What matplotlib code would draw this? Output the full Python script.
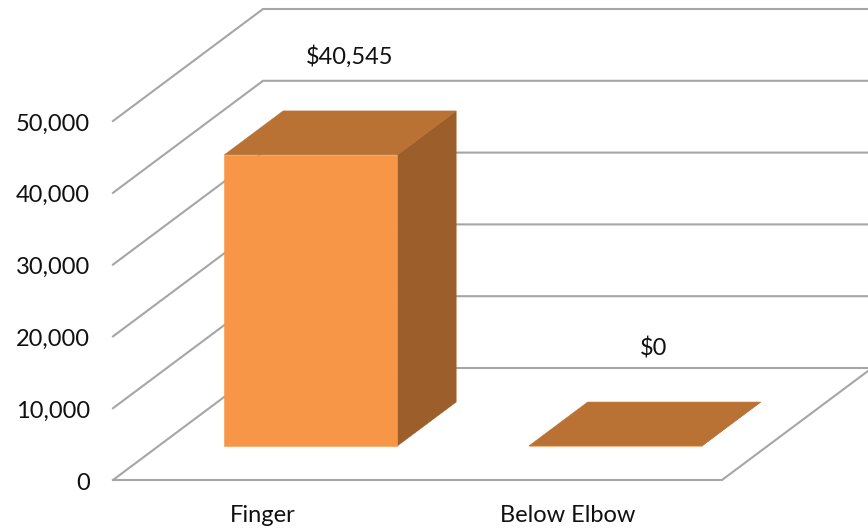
import matplotlib.pyplot as plt
from matplotlib.patches import Polygon

categories = ['Finger', 'Below Elbow']
values = [40545, 0]
value_labels = ['$40,545', '$0']
ticks = [0, 10000, 20000, 30000, 40000, 50000]

# oblique projection of the 3d box, everything in figure pixels except the value axis
FLOOR_LEFT = 113
FLOOR_WIDTH = 609
DEPTH_X = 150
DEPTH_Y = 112
PX_PER_UNIT = 359 / 50000
BASE_Y = 480
BAR_WIDTH = 173
GRID = '#a6a6a6'
FONT = 17

plt.rcParams['font.family'] = ['Lato', 'DejaVu Sans']


def project(x, d, v):
    return x + DEPTH_X * d, v + DEPTH_Y * d / PX_PER_UNIT


def face(ax, pts, color, z):
    ax.add_patch(Polygon([project(*p) for p in pts], closed=True, facecolor=color,
                         edgecolor=color, linewidth=0.4, zorder=z))


fig = plt.figure(figsize=(8.68, 5.29), dpi=100)
ax = fig.add_axes([0, 0, 1, 1])
ax.set_xlim(0, 868)
ax.set_ylim((BASE_Y - 529) / PX_PER_UNIT, BASE_Y / PX_PER_UNIT)
ax.axis('off')

# walls and floor
for t in ticks:
    xs, ys = zip(project(FLOOR_LEFT, 0, t), project(FLOOR_LEFT, 1, t), project(FLOOR_LEFT + 900, 1, t))
    ax.plot(xs, ys, color=GRID, lw=1.5, zorder=1, solid_joinstyle='miter')
    ax.text(90, t - 3 / PX_PER_UNIT, f'{t:,}', ha='right', va='center', fontsize=FONT, color='#111111')

right = FLOOR_LEFT + FLOOR_WIDTH
xs, ys = zip(project(FLOOR_LEFT, 0, 0), project(right, 0, 0), project(right, 1, 0))
ax.plot(xs, ys, color=GRID, lw=1.5, zorder=1, solid_joinstyle='miter')

# bars
slot = FLOOR_WIDTH / len(categories)
d0, d1 = 0.304, 0.696
for i, (name, v, lab) in enumerate(zip(categories, values, value_labels)):
    cx = FLOOR_LEFT + slot * (i + 0.5)
    x0, x1 = cx - BAR_WIDTH / 2, cx + BAR_WIDTH / 2
    face(ax, [(x1, d0, 0), (x1, d1, 0), (x1, d1, v), (x1, d0, v)], '#9c5f2b', 3)
    face(ax, [(x0, d0, v), (x1, d0, v), (x1, d1, v), (x0, d1, v)], '#b97233', 3)
    face(ax, [(x0, d0, 0), (x1, d0, 0), (x1, d0, v), (x0, d0, v)], '#f79646', 4)

    lx, ly = project(cx + 9, 0.5, v)
    ax.text(lx, ly + 76 / PX_PER_UNIT, lab, ha='center', va='center',
            fontsize=FONT, color='#111111', zorder=5)
    ax.text(cx - 2, -36 / PX_PER_UNIT, name, ha='center', va='center',
            fontsize=FONT, color='#111111')

fig.savefig('out.png', dpi=100)
